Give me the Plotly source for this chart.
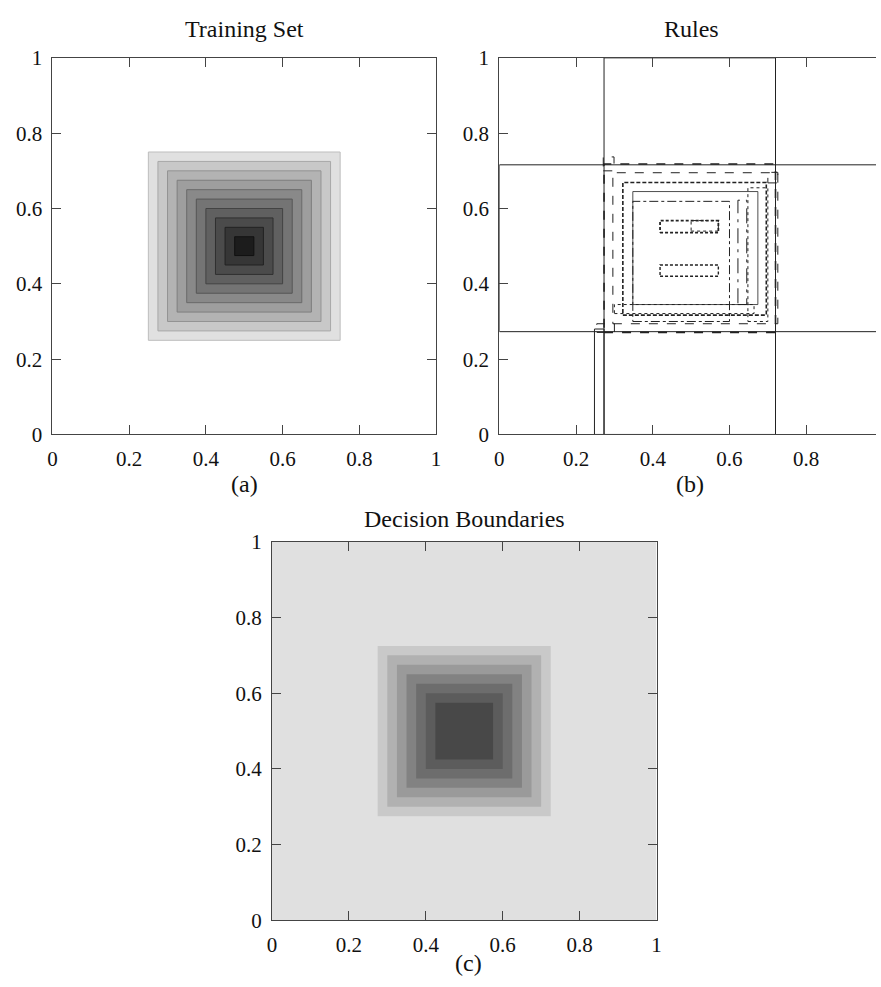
import plotly.graph_objects as go

# ---------------- data ----------------
tick_vals = [0, 0.2, 0.4, 0.6, 0.8, 1]
tick_text = ["0", "0.2", "0.4", "0.6", "0.8", "1"]

# (a) training set: nested squares centred at (0.5, 0.5)
train_half = [0.25, 0.225, 0.2, 0.175, 0.15, 0.125, 0.1, 0.075, 0.05, 0.025]
train_fill = ["#e0e0e0", "#c8c8c8", "#b3b3b3", "#9e9e9e", "#898989",
              "#747474", "#606060", "#4b4b4b", "#363636", "#1c1c1c"]
train_edge = ["#bdbdbd", "#a8a8a8", "#939393", "#7e7e7e", "#6a6a6a",
              "#565656", "#434343", "#303030", "#222222", "#111111"]

# (b) rules: x0, x1, y0, y1
rule_x0 = [0.273, 0.000, 0.248, 0.273, 0.271, 0.254, 0.296, 0.700, 0.322, 0.300, 0.348, 0.348, 0.622, 0.648, 0.419, 0.500, 0.419]
rule_x1 = [0.720, 1.000, 0.273, 0.720, 0.299, 0.300, 0.726, 0.726, 0.696, 0.664, 0.674, 0.600, 0.645, 0.700, 0.571, 0.571, 0.571]
rule_y0 = [0.000, 0.273, 0.000, 0.271, 0.700, 0.271, 0.294, 0.668, 0.317, 0.321, 0.345, 0.300, 0.345, 0.300, 0.536, 0.540, 0.420]
rule_y1 = [1.000, 0.716, 0.280, 0.718, 0.737, 0.294, 0.695, 0.696, 0.669, 0.345, 0.645, 0.619, 0.622, 0.655, 0.568, 0.568, 0.450]
rule_dash = ["solid", "solid", "solid", "dash", "dash", "dash", "dash", "dash", "4px,2px",
             "dot", "solid", "dashdot", "longdashdot", "dot", "3px,2px", "dot", "3px,2px"]
rule_width = [1.0, 1.0, 1.0, 1.6, 1.0, 1.0, 1.0, 1.0, 1.6, 1.0, 0.8, 1.0, 1.0, 1.0, 1.8, 1.0, 1.4]

# (c) decision boundaries
dec_bg = "#e0e0e0"
dec_half = [0.225, 0.2, 0.175, 0.15, 0.125, 0.1, 0.075]
dec_fill = ["#c9c9c9", "#b1b1b1", "#9a9a9a", "#828282", "#6d6d6d", "#5c5c5c", "#484848"]


def rect(x0, x1, y0, y1):
    return [x0, x1, x1, x0, x0], [y0, y0, y1, y1, y0]


fig = go.Figure()

# panel (a)
for h, fc, ec in zip(train_half, train_fill, train_edge):
    xs, ys = rect(0.5 - h, 0.5 + h, 0.5 - h, 0.5 + h)
    fig.add_trace(go.Scatter(x=xs, y=ys, mode="lines", fill="toself", fillcolor=fc,
                             line=dict(color=ec, width=1), xaxis="x", yaxis="y",
                             showlegend=False, hoverinfo="skip"))

# panel (b)
for x0, x1, y0, y1, d, w in zip(rule_x0, rule_x1, rule_y0, rule_y1, rule_dash, rule_width):
    xs, ys = rect(x0, x1, y0, y1)
    fig.add_trace(go.Scatter(x=xs, y=ys, mode="lines",
                             line=dict(color="#222222", width=w, dash=d),
                             xaxis="x2", yaxis="y2", showlegend=False, hoverinfo="skip"))

# panel (c)
xs, ys = rect(0, 1, 0, 1)
fig.add_trace(go.Scatter(x=xs, y=ys, mode="lines", fill="toself", fillcolor=dec_bg,
                         line=dict(width=0), xaxis="x3", yaxis="y3",
                         showlegend=False, hoverinfo="skip"))
for h, fc in zip(dec_half, dec_fill):
    xs, ys = rect(0.5 - h, 0.5 + h, 0.5 - h, 0.5 + h)
    fig.add_trace(go.Scatter(x=xs, y=ys, mode="lines", fill="toself", fillcolor=fc,
                             line=dict(width=0), xaxis="x3", yaxis="y3",
                             showlegend=False, hoverinfo="skip"))

W, H = 881, 987
FONT = "Liberation Serif, Times New Roman, serif"


def ax(domain, rng, mirror="ticks", vals=tick_vals, text=tick_text):
    return dict(domain=domain, range=rng, showline=True, linecolor="#444444", linewidth=1,
                mirror=mirror, ticks="inside", ticklen=9, tickcolor="#444444",
                tickvals=vals, ticktext=text, showgrid=False, zeroline=False,
                ticklabelstandoff=5, tickfont=dict(family=FONT, size=21, color="#111111"),
                fixedrange=True)


xa = [48 / W, 436 / W]
ya = [1 - 433 / H, 1 - 47 / H]
xb = [500 / W, 1.0]
xc = [270 / W, 659 / W]
yc = [1 - 931 / H, 1 - 543 / H]

fig.update_layout(
    width=W, height=H, margin=dict(l=0, r=0, t=0, b=0),
    paper_bgcolor="white", plot_bgcolor="white",
    xaxis=ax(xa, [0, 1]) | dict(anchor="y"),
    yaxis=ax(ya, [0, 1]) | dict(anchor="x"),
    xaxis2=ax(xb, [0, 381 / 388]) | dict(anchor="y2"),
    yaxis2=ax(ya, [0, 1], mirror=False) | dict(anchor="x2"),
    xaxis3=ax(xc, [0, 1]) | dict(anchor="y3"),
    yaxis3=ax(yc, [0, 1]) | dict(anchor="x3"),
)

annots = [
    ("Training Set", 242, 17), ("Rules", 694, 17), ("Decision Boundaries", 465, 520),
    ("(a)", 242, 484), ("(b)", 693, 484), ("(c)", 469, 975),
]
for t, px, py in annots:
    fig.add_annotation(text=t, x=px / W, y=1 - py / H, xref="paper", yref="paper",
                       showarrow=False, xanchor="center", yanchor="middle",
                       font=dict(family=FONT, size=24, color="#111111"))

fig.write_html("out.html")
